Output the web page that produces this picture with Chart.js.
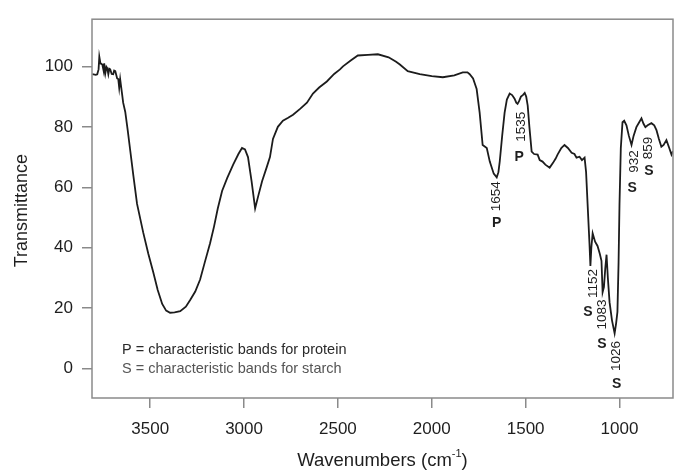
<!DOCTYPE html>
<html>
<head>
<meta charset="utf-8">
<script src="https://cdn.jsdelivr.net/npm/chart.js@4.4.1/dist/chart.umd.min.js"></script>
<style>
html, body { margin: 0; padding: 0; background: #fff; }
#wrap { width: 675px; height: 473px; }
</style>
</head>
<body>
<div id="wrap"><canvas id="ftir"></canvas></div>
<script>
// spectrum (wavenumber cm-1, transmittance)
var wavenumbers = [3808,3790,3782,3775,3771,3765,3755,3748,3745,3739,3733,3729,3723,3718,3713,3705,3697,3692,3686,3676,3670,3665,3660,3650,3644,3633,3620,3606,3590,3570,3537,3510,3484,3460,3436,3415,3394,3370,3340,3310,3287,3260,3234,3210,3181,3160,3140,3117,3090,3058,3030,3011,2995,2979,2960,2941,2925,2904,2880,2862,2846,2820,2793,2765,2739,2700,2665,2633,2600,2559,2520,2489,2473,2430,2394,2340,2287,2230,2190,2170,2128,2064,2000,1941,1880,1835,1810,1798,1780,1761,1745,1729,1718,1707,1691,1670,1654,1645,1638,1625,1612,1600,1585,1572,1559,1550,1543,1535,1525,1515,1505,1497,1489,1480,1468,1455,1436,1425,1410,1395,1372,1355,1340,1330,1310,1293,1275,1255,1240,1229,1213,1200,1186,1178,1170,1160,1155,1150,1143,1130,1117,1105,1096,1090,1083,1076,1069,1062,1053,1040,1026,1018,1011,1005,1000,993,984,975,963,950,936,925,910,895,883,872,862,850,830,815,803,790,777,765,750,735,723,715];
var transmittance = [97.4,97.2,97.4,99,103.2,101,100.6,98.5,101,97.7,99.8,99.4,97.4,99.2,99,97.5,97.4,98.6,98.4,96,95.8,92.9,95.8,91,88,85,79,72,64,54.5,45,38,32,26,21.4,19.2,18.5,18.6,19,20.5,22.7,25.5,29.5,35,41.5,47,53,58.8,63,67.5,71,73,72.5,70,62,53,57,62,66.5,70,76,80,82,83,84,86,88,91,93,95,97.5,99,100,102,103.6,103.8,104,103,101.5,100.6,98.4,97.4,96.8,96.4,97,98,98,97.4,96,92.5,84.7,74,73.5,73,68.5,64.5,63.3,65,68.5,77,84.7,89,91,90.5,89.3,88,87.6,88.5,90,90.5,91.2,90,87,80,71.8,71,70.8,69,68.5,67.5,66.5,68,69.5,70.8,73,74,73,71.4,71,69.8,70.1,69,69.8,65,54.5,41.5,34,40,44.8,42,40.6,38,35.7,25.3,27,33,37.7,30,22,16,11.7,15,18.8,35,54.5,73,81.5,82,80.5,77,74,77,79.9,81.5,82.8,81,79.9,80.5,81.2,80.5,78.9,76,73.4,74,75.6,73,70.8,72];

var xTicks = [3500, 3000, 2500, 2000, 1500, 1000];
var yTicks = [0, 20, 40, 60, 80, 100];

var bandNumbers = [1654, 1535, 1152, 1083, 1026, 932, 859];
var bandTypes = ['P', 'P', 'S', 'S', 'S', 'S', 'S'];

var legendLines = ['P = characteristic bands for protein', 'S = characteristic bands for starch'];

// where each band label sits: px offsets from the band, heights in y units
var bandLabelPlace = {
    1654: { dxNum: 0, dxLet: 0, yNum: 57, yLet: 48 },
    1535: { dxNum: 2, dxLet: 0, yNum: 80, yLet: 70 },
    1152: { dxNum: 2, dxLet: -3, yNum: 28.2, yLet: 18.8 },
    1083: { dxNum: -2, dxLet: -2, yNum: 17.9, yLet: 8.1 },
    1026: { dxNum: 2, dxLet: 2, yNum: 4.2, yLet: -5.2 },
    932: { dxNum: 2, dxLet: 0, yNum: 68.5, yLet: 59.7 },
    859: { dxNum: 2, dxLet: 3, yNum: 73, yLet: 65.3 }
};

var points = wavenumbers.map(function (w, i) { return { x: w, y: transmittance[i] }; });

var frameAndText = {
    id: 'frameAndText',
    afterDraw: function (chart) {
        var ctx = chart.ctx;
        var a = chart.chartArea;
        var xs = chart.scales.x, ys = chart.scales.y;
        ctx.save();
        ctx.strokeStyle = '#8a8a8a';
        ctx.lineWidth = 1.5;
        ctx.strokeRect(a.left, a.top, a.right - a.left, a.bottom - a.top);

        ctx.fillStyle = '#1e1e1e';
        // band labels
        bandNumbers.forEach(function (b, i) {
            var p = bandLabelPlace[b];
            var bx = xs.getPixelForValue(b);
            ctx.save();
            ctx.translate(bx + p.dxNum, ys.getPixelForValue(p.yNum));
            ctx.rotate(-Math.PI / 2);
            ctx.font = '13.5px "Liberation Sans", Arial, sans-serif';
            ctx.textAlign = 'center';
            ctx.textBaseline = 'middle';
            ctx.fillText(String(b), 0, 0);
            ctx.restore();
            ctx.font = 'bold 14px "Liberation Sans", Arial, sans-serif';
            ctx.textAlign = 'center';
            ctx.textBaseline = 'middle';
            ctx.fillText(bandTypes[i], bx + p.dxLet, ys.getPixelForValue(p.yLet));
        });

        // legend note
        ctx.font = '14.5px "Liberation Sans", Arial, sans-serif';
        ctx.textAlign = 'left';
        ctx.textBaseline = 'middle';
        ctx.fillStyle = '#2a2a2a';
        ctx.fillText(legendLines[0], a.left + 30, ys.getPixelForValue(6.2));
        ctx.fillStyle = '#555';
        ctx.fillText(legendLines[1], a.left + 30, ys.getPixelForValue(0));

        // axis titles
        ctx.fillStyle = '#1e1e1e';
        ctx.font = '18px "Liberation Sans", Arial, sans-serif';
        ctx.save();
        ctx.translate(22, (a.top + a.bottom) / 2 + 2);
        ctx.rotate(-Math.PI / 2);
        ctx.textAlign = 'center';
        ctx.fillText('Transmittance', 0, 0);
        ctx.restore();

        var t1 = 'Wavenumbers (cm', t2 = '-1', t3 = ')';
        ctx.font = '18.5px "Liberation Sans", Arial, sans-serif';
        var w1 = ctx.measureText(t1).width, w3 = ctx.measureText(t3).width;
        ctx.font = '11px "Liberation Sans", Arial, sans-serif';
        var w2 = ctx.measureText(t2).width;
        var x0 = (a.left + a.right) / 2 - (w1 + w2 + w3) / 2;
        var ty = 461;
        ctx.textAlign = 'left';
        ctx.font = '18.5px "Liberation Sans", Arial, sans-serif';
        ctx.fillText(t1, x0, ty);
        ctx.font = '11px "Liberation Sans", Arial, sans-serif';
        ctx.fillText(t2, x0 + w1, ty - 7);
        ctx.font = '18.5px "Liberation Sans", Arial, sans-serif';
        ctx.fillText(t3, x0 + w1 + w2, ty);
        ctx.restore();
    }
};

new Chart(document.getElementById('ftir'), {
    type: 'line',
    data: {
        datasets: [{
            data: points,
            borderColor: '#1c1c1c',
            borderWidth: 1.8,
            pointRadius: 0,
            tension: 0,
            fill: false
        }]
    },
    options: {
        responsive: true,
        maintainAspectRatio: false,
        animation: false,
        layout: { padding: { top: 12, right: 2, left: 0, bottom: 0 } },
        plugins: { legend: { display: false }, tooltip: { enabled: false } },
        scales: {
            x: {
                type: 'linear',
                reverse: true,
                min: 715,
                max: 3810,
                afterBuildTicks: function (s) { s.ticks = xTicks.map(function (v) { return { value: v }; }); },
                afterFit: function (s) { s.height = 75; },
                grid: { drawOnChartArea: false, color: '#8a8a8a', tickLength: 10, lineWidth: 1.5 },
                border: { display: false },
                ticks: {
                    color: '#1e1e1e', padding: 11, maxRotation: 0,
                    font: { family: '"Liberation Sans", Arial, sans-serif', size: 17 },
                    callback: function (v) { return String(v); }
                }
            },
            y: {
                min: -9.7,
                max: 115.6,
                afterBuildTicks: function (s) { s.ticks = yTicks.map(function (v) { return { value: v }; }); },
                afterFit: function (s) { s.width = 92; },
                grid: { drawOnChartArea: false, color: '#8a8a8a', tickLength: 10, lineWidth: 1.5 },
                border: { display: false },
                ticks: {
                    color: '#1e1e1e', padding: 9,
                    font: { family: '"Liberation Sans", Arial, sans-serif', size: 17 },
                    callback: function (v) { return String(v); }
                }
            }
        }
    },
    plugins: [frameAndText]
});
</script>
</body>
</html>
